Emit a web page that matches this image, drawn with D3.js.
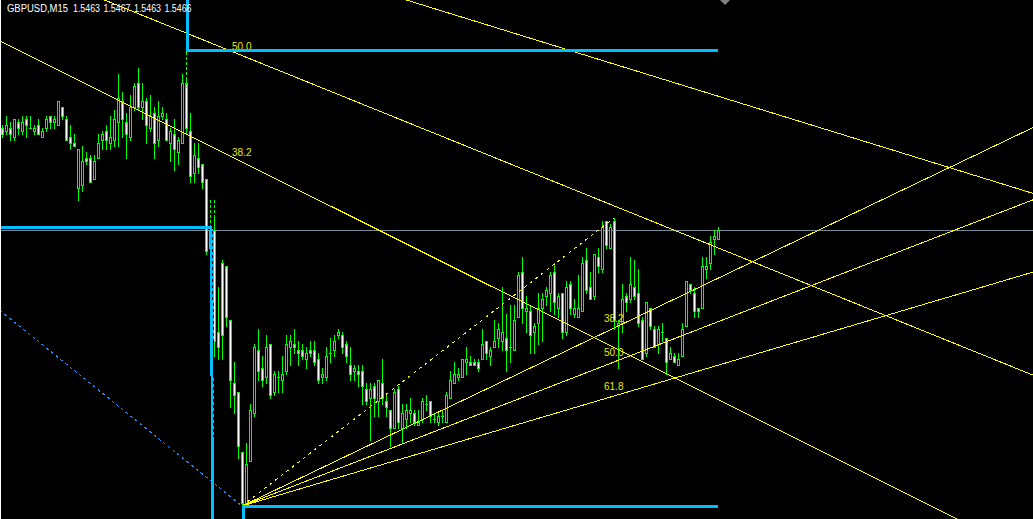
<!DOCTYPE html>
<html><head><meta charset="utf-8">
<script src="https://cdn.jsdelivr.net/npm/d3@7"></script>
<style>html,body{margin:0;padding:0;background:#000;overflow:hidden}svg{display:block}</style>
</head><body><svg id="c" width="1033" height="519"></svg>
<script>
const symbol = "GBPUSD,M15";

const open = [
1.5500,1.5499,1.5500,1.5497,1.5502,1.5499,1.5503,1.5500,1.5499,1.5501,
1.5497,1.5500,1.5504,1.5502,1.5501,1.5507,1.5503,1.5497,1.5495,1.5480,
1.5481,1.5490,1.5490,1.5483,1.5490,1.5496,1.5499,1.5495,1.5496,1.5502,
1.5509,1.5502,1.5497,1.5507,1.5515,1.5507,1.5509,1.5500,1.5505,1.5496,
1.5504,1.5503,1.5495,1.5498,1.5492,1.5495,1.5515,1.5499,1.5485,1.5490,
1.5488,1.5483,1.5460,1.5466,1.5432,1.5455,1.5454,1.5436,1.5415,1.5412,
1.5392,1.5375,1.5389,1.5405,1.5426,1.5420,1.5417,1.5428,1.5412,1.5417,
1.5416,1.5419,1.5427,1.5428,1.5426,1.5426,1.5423,1.5426,1.5426,1.5423,
1.5417,1.5417,1.5425,1.5426,1.5431,1.5431,1.5428,1.5421,1.5419,1.5419,
1.5419,1.5413,1.5410,1.5414,1.5409,1.5415,1.5409,1.5406,1.5400,1.5413,
1.5400,1.5403,1.5405,1.5405,1.5401,1.5403,1.5408,1.5409,1.5403,1.5402,
1.5404,1.5402,1.5410,1.5415,1.5417,1.5417,1.5422,1.5422,1.5422,1.5422,
1.5423,1.5429,1.5424,1.5427,1.5430,1.5429,1.5430,1.5427,1.5426,1.5437,
1.5452,1.5439,1.5439,1.5432,1.5435,1.5440,1.5444,1.5445,1.5452,1.5440,
1.5445,1.5432,1.5448,1.5438,1.5437,1.5439,1.5456,1.5447,1.5444,1.5457,
1.5453,1.5469,1.5460,1.5469,1.5434,1.5435,1.5444,1.5443,1.5447,1.5445,
1.5436,1.5425,1.5440,1.5433,1.5428,1.5432,1.5430,1.5423,1.5424,1.5421,
1.5424,1.5434,1.5448,1.5445,1.5440,1.5440,1.5453,1.5455,1.5463,1.5463];

const high = [
1.5501,1.5504,1.5502,1.5503,1.5503,1.5504,1.5504,1.5504,1.5501,1.5503,
1.5500,1.5504,1.5504,1.5504,1.5509,1.5507,1.5504,1.5501,1.5498,1.5493,
1.5494,1.5492,1.5491,1.5491,1.5498,1.5499,1.5501,1.5504,1.5506,1.5518,
1.5512,1.5505,1.5511,1.5515,1.5520,1.5515,1.5510,1.5511,1.5507,1.5509,
1.5507,1.5505,1.5500,1.5503,1.5497,1.5518,1.5516,1.5505,1.5495,1.5495,
1.5488,1.5483,1.5467,1.5470,1.5447,1.5456,1.5454,1.5436,1.5422,1.5412,
1.5392,1.5395,1.5408,1.5428,1.5433,1.5424,1.5431,1.5428,1.5419,1.5419,
1.5424,1.5431,1.5431,1.5433,1.5429,1.5428,1.5427,1.5429,1.5429,1.5425,
1.5420,1.5427,1.5430,1.5431,1.5433,1.5432,1.5429,1.5427,1.5421,1.5421,
1.5421,1.5415,1.5415,1.5415,1.5416,1.5423,1.5411,1.5406,1.5413,1.5414,
1.5408,1.5408,1.5410,1.5406,1.5406,1.5410,1.5411,1.5409,1.5405,1.5405,
1.5406,1.5412,1.5419,1.5422,1.5420,1.5423,1.5427,1.5424,1.5423,1.5423,
1.5433,1.5429,1.5427,1.5436,1.5435,1.5447,1.5438,1.5441,1.5441,1.5452,
1.5457,1.5444,1.5441,1.5435,1.5445,1.5445,1.5447,1.5452,1.5455,1.5445,
1.5445,1.5449,1.5449,1.5443,1.5451,1.5457,1.5460,1.5452,1.5458,1.5460,
1.5469,1.5469,1.5468,1.5470,1.5436,1.5448,1.5445,1.5457,1.5456,1.5453,
1.5437,1.5442,1.5440,1.5434,1.5434,1.5435,1.5430,1.5427,1.5425,1.5425,
1.5435,1.5449,1.5448,1.5447,1.5440,1.5457,1.5457,1.5464,1.5466,1.5467];

const low = [
1.5497,1.5498,1.5496,1.5496,1.5498,1.5498,1.5497,1.5500,1.5498,1.5498,
1.5497,1.5499,1.5500,1.5500,1.5501,1.5503,1.5496,1.5493,1.5494,1.5476,
1.5479,1.5488,1.5482,1.5483,1.5490,1.5493,1.5493,1.5493,1.5494,1.5494,
1.5497,1.5490,1.5496,1.5506,1.5506,1.5503,1.5495,1.5499,1.5490,1.5494,
1.5503,1.5496,1.5489,1.5486,1.5488,1.5495,1.5498,1.5482,1.5482,1.5485,
1.5480,1.5458,1.5458,1.5424,1.5423,1.5423,1.5434,1.5407,1.5405,1.5390,
1.5374,1.5375,1.5389,1.5404,1.5416,1.5414,1.5415,1.5410,1.5411,1.5412,
1.5412,1.5418,1.5421,1.5425,1.5421,1.5423,1.5420,1.5424,1.5421,1.5415,
1.5415,1.5416,1.5422,1.5424,1.5430,1.5425,1.5422,1.5416,1.5416,1.5414,
1.5408,1.5408,1.5396,1.5404,1.5404,1.5408,1.5404,1.5394,1.5400,1.5400,
1.5395,1.5400,1.5402,1.5401,1.5401,1.5402,1.5406,1.5402,1.5402,1.5401,
1.5402,1.5402,1.5410,1.5415,1.5416,1.5417,1.5418,1.5421,1.5421,1.5419,
1.5423,1.5423,1.5421,1.5427,1.5427,1.5426,1.5419,1.5422,1.5426,1.5437,
1.5435,1.5432,1.5425,1.5425,1.5428,1.5429,1.5441,1.5439,1.5438,1.5437,
1.5430,1.5431,1.5438,1.5437,1.5437,1.5439,1.5445,1.5443,1.5443,1.5452,
1.5452,1.5460,1.5460,1.5433,1.5420,1.5432,1.5439,1.5442,1.5443,1.5434,
1.5423,1.5424,1.5433,1.5427,1.5425,1.5429,1.5418,1.5423,1.5422,1.5421,
1.5424,1.5434,1.5445,1.5437,1.5437,1.5440,1.5450,1.5453,1.5458,1.5463];

const close = [
1.5498,1.5501,1.5498,1.5503,1.5500,1.5502,1.5501,1.5500,1.5500,1.5498,
1.5499,1.5503,1.5502,1.5503,1.5509,1.5504,1.5496,1.5495,1.5494,1.5493,
1.5489,1.5489,1.5482,1.5489,1.5495,1.5498,1.5496,1.5497,1.5503,1.5510,
1.5503,1.5498,1.5507,1.5514,1.5507,1.5509,1.5501,1.5504,1.5495,1.5504,
1.5505,1.5496,1.5499,1.5493,1.5496,1.5515,1.5500,1.5484,1.5491,1.5487,
1.5482,1.5459,1.5466,1.5429,1.5427,1.5431,1.5437,1.5416,1.5411,1.5394,
1.5375,1.5388,1.5406,1.5427,1.5419,1.5416,1.5427,1.5411,1.5418,1.5417,
1.5418,1.5428,1.5429,1.5427,1.5425,1.5424,1.5425,1.5425,1.5422,1.5416,
1.5418,1.5424,1.5425,1.5429,1.5432,1.5427,1.5424,1.5418,1.5420,1.5418,
1.5414,1.5409,1.5413,1.5410,1.5416,1.5410,1.5407,1.5400,1.5412,1.5402,
1.5405,1.5406,1.5406,1.5402,1.5402,1.5409,1.5408,1.5404,1.5403,1.5404,
1.5404,1.5411,1.5416,1.5418,1.5418,1.5423,1.5423,1.5421,1.5421,1.5420,
1.5428,1.5425,1.5426,1.5429,1.5433,1.5432,1.5426,1.5427,1.5436,1.5451,
1.5440,1.5440,1.5431,1.5434,1.5440,1.5443,1.5446,1.5451,1.5442,1.5444,
1.5432,1.5447,1.5440,1.5440,1.5440,1.5455,1.5446,1.5443,1.5458,1.5454,
1.5467,1.5461,1.5467,1.5436,1.5435,1.5443,1.5442,1.5448,1.5444,1.5435,
1.5423,1.5442,1.5434,1.5427,1.5433,1.5432,1.5422,1.5425,1.5422,1.5423,
1.5433,1.5449,1.5446,1.5439,1.5439,1.5454,1.5454,1.5462,1.5464,1.5466];

// Fibonacci fan objects: anchors as [bar index, price]
const fanLevels = [38.2, 50.0, 61.8];
const fanUpFrom = [60, 1.5374];
const fanUpTo = [153, 1.5470];
const fanDownFrom = [-218.75, 1.56743];
const fanDownTo = [60, 1.5374];

// blue step lines: [bar index, price]
const blueTop = [[46.25, 1.55440], [46.25, 1.55260], [179, 1.55260]];
const blueMid = [[-0.5, 1.54670], [52.25, 1.54670], [52.75, 1.53690]];
const blueLow = [[60.25, 1.53690], [60.25, 1.53737], [179, 1.53737]];

// short dashed green verticals: [bar index, price from, price to]
const greenDashes = [[46, 1.55253, 1.55133], [52, 1.54760, 1.54667], [53, 1.54760, 1.54667]];

const W = 1033, H = 519;
const n = open.length;
const x = d3.scaleLinear().domain([0, n - 1]).range([2, 718]);
const y = d3.scaleLinear().domain([1.554267, 1.536967]).range([0, 519]);

const svg = d3.select('#c');
svg.append('rect').attr('width', W).attr('height', H).attr('fill', '#000');
svg.append('defs').append('clipPath').attr('id', 'clip')
  .append('rect').attr('width', W).attr('height', H);
const root = svg.append('g').attr('clip-path', 'url(#clip)');

// bid line
const lastClose = close[n - 1];
root.append('rect').attr('x', 0).attr('y', Math.round(y(lastClose))).attr('width', W).attr('height', 1)
  .attr('fill', '#778899').attr('shape-rendering', 'crispEdges');

// candles
const bars = d3.range(n).map(i => ({i, o: open[i], h: high[i], l: low[i], c: close[i]}));
const cg = root.append('g').attr('shape-rendering', 'crispEdges');
bars.forEach(b => {
  const cx = Math.round(x(b.i));
  const yh = Math.round(y(b.h)), yl = Math.round(y(b.l));
  const yo = Math.round(y(b.o)), yc = Math.round(y(b.c));
  const top = Math.min(yo, yc), bot = Math.max(yo, yc);
  cg.append('rect').attr('x', cx).attr('y', yh).attr('width', 1).attr('height', Math.max(1, yl - yh + 1)).attr('fill', '#00ff00');
  cg.append('rect').attr('x', cx - 1).attr('y', top).attr('width', 3).attr('height', bot - top + 1).attr('fill', '#00ff00');
  if (bot - top > 1) {
    cg.append('rect').attr('x', cx).attr('y', top + 1).attr('width', 1).attr('height', bot - top - 1)
      .attr('fill', b.c < b.o ? '#ffffff' : '#000000');
  }
});

// green dashed verticals
greenDashes.forEach(d => {
  const cx = Math.round(x(d[0])) + 0.5;
  root.append('line').attr('x1', cx).attr('x2', cx).attr('y1', y(d[1])).attr('y2', y(d[2]))
    .attr('stroke', '#00ff00').attr('stroke-width', 1).attr('stroke-dasharray', '3,2')
    .attr('shape-rendering', 'crispEdges');
});

// Fibonacci fans
const fg = root.append('g');
function drawFan(from, to, mainColor, mainDash) {
  const x0 = x(from[0]), y0 = y(from[1]);
  const x1 = x(to[0]), y1 = y(to[1]);
  fanLevels.forEach(lv => {
    const p = to[1] - (to[1] - from[1]) * lv / 100;
    const yl = y(p);
    const s = (yl - y0) / (x1 - x0);
    const xe = W + 20;
    fg.append('line').attr('x1', x0).attr('y1', y0).attr('x2', xe).attr('y2', y0 + s * (xe - x0))
      .attr('stroke', '#ffff00').attr('stroke-width', 1).attr('shape-rendering', 'crispEdges');
    if (yl - 6 > 10 && yl < H) {
      fg.append('text').attr('x', x1 - 10).attr('y', yl - 6).text(lv.toFixed(1))
        .attr('fill', '#e8e800').attr('font-family', 'Liberation Sans, Arial, sans-serif').attr('font-size', 10);
    }
  });
  fg.append('line').attr('x1', x0).attr('y1', y0).attr('x2', x1).attr('y2', y1)
    .attr('stroke', mainColor).attr('stroke-width', 1).attr('stroke-dasharray', mainDash)
    .attr('shape-rendering', 'crispEdges');
}
drawFan(fanUpFrom, fanUpTo, '#ffff00', '3,4');
drawFan(fanDownFrom, fanDownTo, '#1e90ff', '3,3');

// blue step lines
const line = d3.line().x(d => x(d[0])).y(d => y(d[1]));
[blueTop, blueMid, blueLow].forEach(pts => {
  root.append('path').attr('d', line(pts)).attr('fill', 'none').attr('stroke', '#00bfff')
    .attr('stroke-width', 3).attr('stroke-linejoin', 'miter').attr('shape-rendering', 'crispEdges');
});
// dashed inner stroke on the vertical blue segment
root.append('line').attr('x1', x(blueMid[1][0]) + 1.5).attr('y1', y(blueMid[1][1]) + 4)
  .attr('x2', x(blueMid[2][0]) + 1.5).attr('y2', y(1.5375))
  .attr('stroke', '#000').attr('stroke-width', 1).attr('stroke-dasharray', '3,3').attr('shape-rendering', 'crispEdges');

// left border
svg.append('rect').attr('x', 0).attr('y', 0).attr('width', 1).attr('height', H).attr('fill', '#ffffff');

// chart shift marker
const sx = Math.round(x(180.75));
svg.append('path').attr('d', `M${sx - 5},0 L${sx + 5},0 L${sx},5 Z`).attr('fill', '#808080');

// header
const hdr = svg.append('g').attr('font-family', 'Liberation Sans, Arial, sans-serif').attr('font-size', 10).attr('fill', '#ffffff');
hdr.append('text').attr('x', 7).attr('y', 12).attr('textLength', 61).attr('lengthAdjust', 'spacingAndGlyphs').text(symbol);
const ohlc = [open[n - 1], high[n - 1], low[n - 1], close[n - 1]].map(v => v.toFixed(4));
ohlc.forEach((t, k) => {
  hdr.append('text').attr('x', 73 + k * 30.5).attr('y', 12).attr('textLength', 27).attr('lengthAdjust', 'spacingAndGlyphs').text(t);
});
</script></body></html>
